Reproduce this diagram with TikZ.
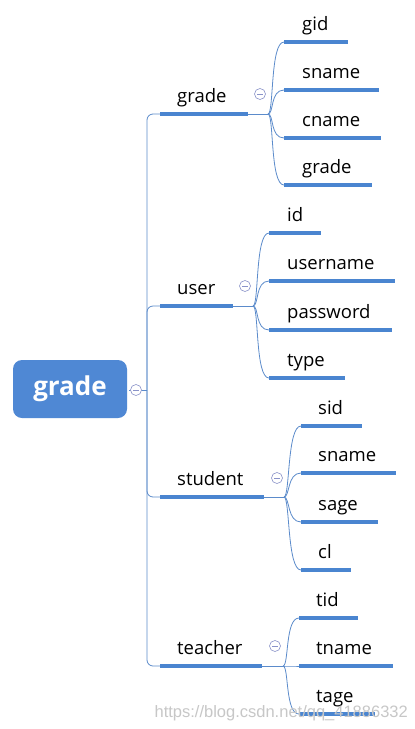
\documentclass[tikz,border=0pt]{standalone}
\usepackage{fontspec}
\setmainfont{Open Sans}
\newfontfamily\wmfont{Liberation Sans}
\definecolor{thinc}{HTML}{5B8BCB}
\definecolor{thickc}{HTML}{4A85D0}
\definecolor{rootc}{HTML}{4F88D4}
\definecolor{togc}{HTML}{8A93C9}
\begin{document}
\begin{tikzpicture}[x=1pt,y=-1pt,
  rootbox/.style={fill=rootc,rounded corners=9pt,minimum width=114pt,minimum height=58pt,inner sep=0pt,text=white,font=\fontsize{26}{26}\selectfont\bfseries},
  tog/.style={circle,draw=togc,line width=0.6pt,minimum size=11pt,inner sep=0pt,fill=white},
  thinl/.style={draw=thinc,line width=0.8pt},
  thickl/.style={draw=thickc,line width=3.6pt},
  lab/.style={anchor=base west,inner sep=0pt,font=\fontsize{18.5}{18.5}\selectfont}]
\useasboundingbox (0,0) rectangle (415,729);
\fill[white] (0,0) rectangle (415,729);

% root
\node[rootbox] (root) at (70,389) {grade};
\coordinate (t) at (147,390);
\draw[thinl] (129,390) -- (t);
\node[tog] (c0) at (136,390) {};
\draw[togc,line width=0.6pt] (c0) ++(-3,0) -- ++(6,0);

% branch coordinates
\coordinate (b1s) at (160,114); \coordinate (b1e) at (248,114); \coordinate (h1) at (268,114);
\coordinate (b2s) at (160,306); \coordinate (b2e) at (233,306); \coordinate (h2) at (253,306);
\coordinate (b3s) at (160,497); \coordinate (b3e) at (264,497); \coordinate (h3) at (284,497);
\coordinate (b4s) at (160,666); \coordinate (b4e) at (262,666); \coordinate (h4) at (283,666);

\foreach \i in {1,2,3,4}{
  \draw[thinl,rounded corners=6pt] (t) |- (b\i s);
  \draw[thinl] (b\i e) -- (h\i);
  \draw[thickl] (b\i s) -- (b\i e);
}
\node[lab] (l1) at (177,102) {grade};
\node[lab] (l2) at (177,294) {user};
\node[lab] (l3) at (177,485) {student};
\node[lab] (l4) at (177,654) {teacher};

\node[tog] (c1) at (260,94) {}; \draw[togc,line width=0.6pt] (c1) ++(-3,0) -- ++(6,0);
\node[tog] (c2) at (245,286) {}; \draw[togc,line width=0.6pt] (c2) ++(-3,0) -- ++(6,0);
\node[tog] (c3) at (277,478) {}; \draw[togc,line width=0.6pt] (c3) ++(-3,0) -- ++(6,0);
\node[tog] (c4) at (275,646) {}; \draw[togc,line width=0.6pt] (c4) ++(-3,0) -- ++(6,0);

% group 1: grade
\coordinate (g1s) at (284,42);  \coordinate (g1e) at (348,42);
\coordinate (g2s) at (284,90);  \coordinate (g2e) at (379,90);
\coordinate (g3s) at (284,138); \coordinate (g3e) at (381,138);
\coordinate (g4s) at (284,185); \coordinate (g4e) at (372,185);
\foreach \j in {1,2,3,4}{
  \draw[thinl] (h1) .. controls +(6,0) and +(-14,0) .. (g\j s);
  \draw[thickl] (g\j s) -- (g\j e);
}
\node[lab] (gl1) at (302,30) {gid};
\node[lab] (gl2) at (302,78) {sname};
\node[lab] (gl3) at (302,126) {cname};
\node[lab] (gl4) at (302,173) {grade};

% group 2: user
\coordinate (u1s) at (269,233); \coordinate (u1e) at (321,233);
\coordinate (u2s) at (269,281); \coordinate (u2e) at (395,281);
\coordinate (u3s) at (269,330); \coordinate (u3e) at (392,330);
\coordinate (u4s) at (269,378); \coordinate (u4e) at (345,378);
\foreach \j in {1,2,3,4}{
  \draw[thinl] (h2) .. controls +(6,0) and +(-14,0) .. (u\j s);
  \draw[thickl] (u\j s) -- (u\j e);
}
\node[lab] (ul1) at (287,221) {id};
\node[lab] (ul2) at (287,269) {username};
\node[lab] (ul3) at (287,318) {password};
\node[lab] (ul4) at (287,366) {type};

% group 3: student
\coordinate (s1s) at (301,426); \coordinate (s1e) at (362,426);
\coordinate (s2s) at (301,473); \coordinate (s2e) at (396,473);
\coordinate (s3s) at (301,522); \coordinate (s3e) at (378,522);
\coordinate (s4s) at (301,570); \coordinate (s4e) at (351,570);
\foreach \j in {1,2,3,4}{
  \draw[thinl] (h3) .. controls +(6,0) and +(-14,0) .. (s\j s);
  \draw[thickl] (s\j s) -- (s\j e);
}
\node[lab] (sl1) at (318,414) {sid};
\node[lab] (sl2) at (318,461) {sname};
\node[lab] (sl3) at (318,510) {sage};
\node[lab] (sl4) at (318,558) {cl};

% group 4: teacher
\coordinate (k1s) at (299,618); \coordinate (k1e) at (358,618);
\coordinate (k2s) at (299,666); \coordinate (k2e) at (393,666);
\coordinate (k3s) at (299,714); \coordinate (k3e) at (375,714);
\foreach \j in {1,2,3}{
  \draw[thinl] (h4) .. controls +(6,0) and +(-14,0) .. (k\j s);
  \draw[thickl] (k\j s) -- (k\j e);
}
\node[lab] (kl1) at (316,606) {tid};
\node[lab] (kl2) at (316,654) {tname};
\node[lab] (kl3) at (316,702) {tage};

% watermark
\node[anchor=base east,inner sep=0pt,text=black!22,font=\wmfont\fontsize{16.5}{16.5}\selectfont] (wm) at (408,717) {https://blog.csdn.net/qq\_41886332};
\end{tikzpicture}
\end{document}
